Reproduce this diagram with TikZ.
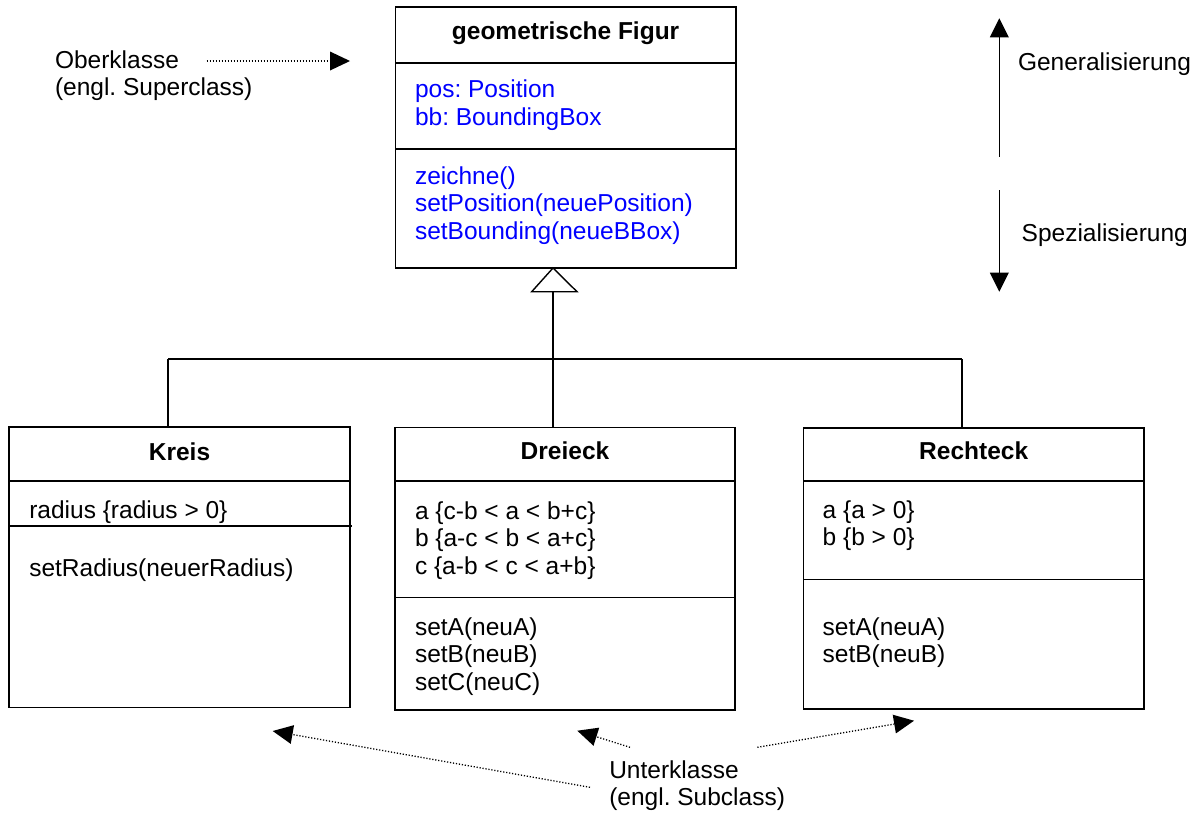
\documentclass[tikz,border=0pt]{standalone}
\usepackage{fontspec}
\setmainfont{Liberation Sans}
\usetikzlibrary{arrows.meta}
\definecolor{memberblue}{RGB}{0,0,255}
% a left-aligned block of lines whose baseline is that of its first line
\newcommand\umllines[1]{\begin{tabular}[t]{@{}l@{}}#1\end{tabular}}
\frenchspacing

\begin{document}
\begin{tikzpicture}[x=1pt,y=-1pt,
  every node/.style={inner sep=0pt,outer sep=0pt,font=\fontsize{24.5}{27.6}\selectfont},
  classbox/.style={draw,line width=1.7pt,anchor=north west},
  divider/.style={line width=1.6pt},
  title/.style={anchor=base,font=\fontsize{24.5}{27.6}\selectfont\bfseries},
  member/.style={anchor=base west},
  conn/.style={line width=1.4pt},
  hint/.style={line width=1.3pt,dash pattern=on 1.2pt off 1.8pt,
    -{Triangle[length=20pt,width=19pt,line width=0pt]}},
  scale arrow/.style={line width=1.5pt,
    -{Triangle[length=19pt,width=19pt,line width=0pt]}}]

\useasboundingbox (0,0) rectangle (1204,815);

% ---------- superclass ----------
\node[classbox,minimum width=340.2pt,minimum height=261pt] (fig) at (395.5,7) {};
\draw[divider] ([yshift=-55.7pt]fig.north west) -- ([yshift=-55.7pt]fig.north east);
\draw[divider] ([yshift=-142pt]fig.north west) -- ([yshift=-142pt]fig.north east);
\node[title] (figtitle) at (565.6,39.3) {geometrische Figur};
\node[member,text=memberblue] (figattr) at (415,97.7)
  {\umllines{pos: Position\\bb: BoundingBox}};
\node[member,text=memberblue] (figops) at (415,184.3)
  {\umllines{zeichne()\\setPosition(neuePosition)\\setBounding(neueBBox)}};

% ---------- subclasses ----------
\node[classbox,minimum width=341pt,minimum height=280.5pt] (kreis) at (9,427) {};
\draw[divider] ([yshift=-54pt]kreis.north west) -- ([yshift=-54pt]kreis.north east);
\draw[divider] ([yshift=-99pt]kreis.north west) -- ([yshift=-99pt,xshift=1.5pt]kreis.north east);
\node[title] (kreistitle) at (179.5,460) {Kreis};
\node[member] (kreisattr) at (29.3,518.3) {\umllines{radius \{radius > 0\}}};
\node[member] (kreisops) at (29.3,576.7) {\umllines{setRadius(neuerRadius)}};

\node[classbox,minimum width=340pt,minimum height=282.5pt] (dreieck) at (395,427.5) {};
\draw[divider] ([yshift=-53.2pt]dreieck.north west) -- ([yshift=-53.2pt]dreieck.north east);
\draw[divider] ([yshift=-169.8pt]dreieck.north west) -- ([yshift=-169.8pt]dreieck.north east);
\node[title] (dreiecktitle) at (565,459.3) {Dreieck};
\node[member] (dreieckattr) at (415,519)
  {\umllines{a \{c-b < a < b+c\}\\b \{a-c < b < a+c\}\\c \{a-b < c < a+b\}}};
\node[member] (dreieckops) at (415,635)
  {\umllines{setA(neuA)\\setB(neuB)\\setC(neuC)}};

\node[classbox,minimum width=340.5pt,minimum height=281.6pt] (rechteck) at (803.5,427.7) {};
\draw[divider] ([yshift=-53pt]rechteck.north west) -- ([yshift=-53pt]rechteck.north east);
\draw[divider] ([yshift=-151.6pt]rechteck.north west) -- ([yshift=-151.6pt]rechteck.north east);
\node[title] (rechtecktitle) at (973.7,459.3) {Rechteck};
\node[member] (rechteckattr) at (822.7,518.3)
  {\umllines{a \{a > 0\}\\b \{b > 0\}}};
\node[member] (rechteckops) at (822.7,635)
  {\umllines{setA(neuA)\\setB(neuB)}};

% ---------- generalization tree ----------
\coordinate (gen) at (553,291.7);
\coordinate (barL) at (168,359);
\coordinate (barR) at (962,359);
\draw[conn,line join=miter] (gen |- fig.south) -- ([xshift=-21.3pt]gen) -- ([xshift=24pt]gen) -- cycle;
\draw[conn] (gen) -- (gen |- dreieck.north);
\draw[conn] (barL) -- (barR);
\draw[conn] (barL) -- (barL |- kreis.north);
\draw[conn] (barR) -- (barR |- rechteck.north);

% ---------- annotations ----------
\node[member] (ober) at (55,68.3) {\umllines{Oberklasse\\(engl. Superclass)}};
\coordinate (oberFrom) at (206.7,61);
\coordinate (oberTo) at (350,61);
\draw[hint] (oberFrom) -- (oberTo);

\node[member] (unter) at (609.3,778.3) {\umllines{Unterklasse\\(engl. Subclass)}};
\coordinate (u1from) at (590,787.3);   \coordinate (u1to) at (272.7,731);
\coordinate (u2from) at (630,747.3);   \coordinate (u2to) at (577.3,730.7);
\coordinate (u3from) at (757.3,747.3); \coordinate (u3to) at (914,720.7);
\draw[hint] (u1from) -- (u1to);
\draw[hint] (u2from) -- (u2to);
\draw[hint] (u3from) -- (u3to);

\node[member] (general) at (1018,70) {Generalisierung};
\node[member] (special) at (1021.7,241.7) {Spezialisierung};
\coordinate (upFrom) at (999.3,156.7);   \coordinate (upTo) at (999.3,18.3);
\coordinate (downFrom) at (999.3,190);   \coordinate (downTo) at (999.3,291.7);
\draw[scale arrow] (upFrom) -- (upTo);
\draw[scale arrow] (downFrom) -- (downTo);
\end{tikzpicture}
\end{document}
